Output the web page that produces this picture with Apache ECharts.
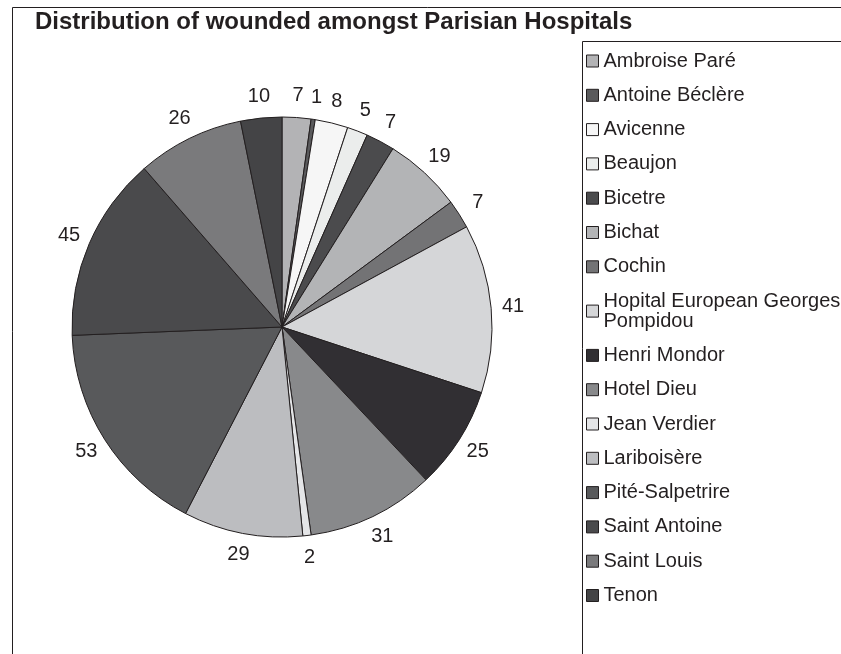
<!DOCTYPE html>
<html>
<head>
<meta charset="utf-8">
<script src="https://cdn.jsdelivr.net/npm/echarts@6/dist/echarts.min.js"></script>
<style>
html, body { margin: 0; padding: 0; background: #fff; }
#chart { width: 841px; height: 654px; }
</style>
</head>
<body>
<div id="chart"></div>
<script>
// hospitals, in the order they appear in the legend
var hospitals = ['Ambroise Paré', 'Antoine Béclère', 'Avicenne', 'Beaujon', 'Bicetre', 'Bichat',
  'Cochin', 'Hopital European Georges Pompidou', 'Henri Mondor', 'Hotel Dieu', 'Jean Verdier',
  'Lariboisère', 'Pité-Salpetrire', 'Saint Antoine', 'Saint Louis', 'Tenon'];
var wounded = [7, 1, 8, 5, 7, 19, 7, 41, 25, 31, 2, 29, 53, 45, 26, 10];
var greys = ['#b3b3b5', '#5a5a5c', '#f6f6f6', '#ebedec', '#4b4b4d', '#b3b4b6', '#737375', '#d5d6d8',
  '#312f33', '#88898b', '#e4e5e7', '#bcbdc0', '#58595b', '#4a4a4c', '#7a7a7c', '#444446'];

var font = 'Liberation Sans, Arial, Helvetica, sans-serif';
var ink = '#231f20';

var chart = echarts.init(document.getElementById('chart'));

var pieData = hospitals.map(function (name, i) {
  return { name: name, value: wounded[i], itemStyle: { color: greys[i] } };
});
// same slices again, invisible, only used to hang the value labels in a ring outside the pie
var labelData = hospitals.map(function (name, i) {
  return { name: name, value: wounded[i] };
});

var option = {
  backgroundColor: '#fff',
  animation: false,
  title: {
    text: 'Distribution of wounded amongst Parisian Hospitals',
    left: 35, top: 10, padding: 0,
    textStyle: { fontFamily: font, fontSize: 24, fontWeight: 'bold', color: ink }
  },
  graphic: [
    { type: 'rect', shape: { x: 12.5, y: 7.5, width: 900, height: 700 }, style: { fill: 'none', stroke: ink, lineWidth: 1 } },
    { type: 'rect', shape: { x: 582.5, y: 41.5, width: 400, height: 700 }, style: { fill: 'none', stroke: ink, lineWidth: 1 } }
  ],
  legend: {
    orient: 'vertical',
    left: 586, top: 51, padding: 0,
    itemWidth: 12, itemHeight: 12, itemGap: 14.3,
    icon: 'rect',
    itemStyle: { borderColor: ink, borderWidth: 1 },
    formatter: function (name) {
      return name === 'Hopital European Georges Pompidou' ? 'Hopital European Georges\nPompidou' : name;
    },
    textStyle: { fontFamily: font, fontSize: 20, lineHeight: 20, color: ink },
    data: hospitals
  },
  series: [{
    type: 'pie',
    center: [282, 327],
    radius: [0, 210],
    startAngle: 90,
    clockwise: true,
    itemStyle: { borderColor: ink, borderWidth: 1 },
    label: { show: false },
    labelLine: { show: false },
    emphasis: { disabled: true },
    data: pieData
  }, {
    type: 'pie',
    center: [282, 327],
    radius: [218, 240],
    startAngle: 90,
    clockwise: true,
    silent: true,
    itemStyle: { color: 'rgba(0,0,0,0)', borderWidth: 0 },
    label: {
      show: true, position: 'inside', formatter: '{c}',
      fontFamily: font, fontSize: 20, color: ink
    },
    labelLine: { show: false },
    emphasis: { disabled: true },
    data: labelData
  }]
};

chart.setOption(option);
</script>
</body>
</html>
